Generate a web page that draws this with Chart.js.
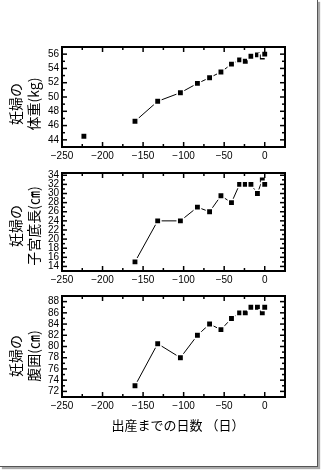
<!DOCTYPE html>
<html><head><meta charset="utf-8">
<script src="https://cdn.jsdelivr.net/npm/chart.js@4.4.0/dist/chart.umd.min.js"></script>
<style>
html,body{margin:0;padding:0;background:#fff;}
#wrap{position:relative;width:321px;height:471px;overflow:hidden;background:#fff;}
canvas{position:absolute;left:0;top:0;}
.frame{position:absolute;left:0;top:0;width:317px;height:466px;border-right:1px solid #555;border-bottom:1px solid #555;box-shadow:2px 2px 1px #aaa;pointer-events:none;}
.yt{position:absolute;font-family:"Noto Sans CJK JP";font-size:14px;line-height:18px;white-space:nowrap;text-align:center;color:#000;transform:translate(-50%,-50%) rotate(-90deg);}
.xt{position:absolute;font-family:"Noto Sans CJK JP";font-size:13px;line-height:16px;white-space:nowrap;color:#000;transform:translate(-50%,-50%);}
</style></head>
<body>
<div id="wrap">
<canvas id="c1" width="321" height="471"></canvas>
<canvas id="c2" width="321" height="471"></canvas>
<canvas id="c3" width="321" height="471"></canvas>
<div class="frame"></div>
<div class="yt" style="left:24px;top:104px;">妊婦の<br>体重(kg)</div>
<div class="yt" style="left:24px;top:226px;">妊婦の<br>子宮底長(㎝)</div>
<div class="yt" style="left:24px;top:356px;">妊婦の<br>腹囲(㎝)</div>
<div class="xt" style="left:178px;top:425px;">出産までの日数 （日）</div>
</div>
<script>
// days before delivery
const weightDays = [-223, -160, -132, -104, -83, -68, -54, -41, -31, -24, -17, -9, -3, 0];
const weightKg   = [44.5, 46.6, 49.4, 50.6, 51.9, 52.7, 53.5, 54.6, 55.2, 55.0, 55.7, 55.9, 55.6, 56.0];
const days       = [-160, -132, -104, -83, -68, -54, -41, -31, -24, -17, -9, -3, 0];
const fundusCm   = [15, 24, 24, 27, 26, 29.5, 28, 32, 32, 32, 30, 33, 32];
const waistCm    = [73, 80.5, 78, 82, 84, 83, 85, 86, 86, 87, 87, 86, 87];
const xTicksMin = -250, xTicksMax = 25, xStep = 25, xLabelStep = 50;

const W = 321, H = 471, XH = 20, YW = 62, RIGHT = 285;

const frameTicks = {
  id: 'frameTicks',
  afterDraw(chart) {
    const {ctx, chartArea: a, scales: {x, y}} = chart;
    ctx.save();
    ctx.strokeStyle = '#000';
    ctx.lineWidth = 1.5;
    const seg = (x1, y1, x2, y2) => { ctx.beginPath(); ctx.moveTo(x1, y1); ctx.lineTo(x2, y2); ctx.stroke(); };
    x.ticks.forEach(t => {
      const px = x.getPixelForValue(t.value);
      if (px <= a.left + 1 || px >= a.right - 1) return;
      const len = (t.value % xLabelStep === 0) ? 5 : 3;
      seg(px, a.bottom, px, a.bottom - len);
      seg(px, a.top, px, a.top + len);
    });
    y.ticks.forEach(t => {
      const py = y.getPixelForValue(t.value);
      if (py <= a.top + 1 || py >= a.bottom - 1) return;
      const len = (t.value % 2 === 0) ? 5 : 3;
      seg(a.left, py, a.left + len, py);
      seg(a.right, py, a.right - len, py);
    });
    ctx.lineWidth = 2;
    ctx.strokeRect(a.left, a.top, a.right - a.left, a.bottom - a.top);
    ctx.restore();
  }
};

const tickFont = {family: 'Liberation Sans', size: 10};

function makeChart(id, xs, ys, yMin, yMax, top, bottom, skipFirst) {
  new Chart(document.getElementById(id), {
    type: 'line',
    data: {
      datasets: [{
        data: xs.map((v, i) => ({x: v, y: ys[i]})),
        borderColor: '#000',
        borderWidth: 1,
        pointStyle: 'rect',
        pointRadius: 4.5,
        pointBackgroundColor: '#000',
        pointBorderColor: '#fff',
        pointBorderWidth: 1.5,
        tension: 0,
        segment: skipFirst ? {borderColor: c => c.p0DataIndex === 0 ? 'rgba(0,0,0,0)' : '#000'} : undefined
      }]
    },
    options: {
      responsive: false,
      animation: false,
      events: [],
      layout: {padding: {left: 0, top: top, right: W - RIGHT, bottom: H - bottom - XH}},
      plugins: {legend: {display: false}, tooltip: {enabled: false}},
      scales: {
        x: {
          type: 'linear', min: xTicksMin, max: xTicksMax,
          afterFit(s) { s.height = XH; },
          grid: {display: false, drawTicks: false},
          border: {display: false},
          ticks: {
            stepSize: xStep, autoSkip: false, maxRotation: 0, padding: 3, color: '#000', font: tickFont,
            callback: v => (v % xLabelStep === 0 && v <= 0) ? (v < 0 ? '\u2212' + Math.abs(v) : String(v)) : ''
          }
        },
        y: {
          type: 'linear', min: yMin, max: yMax,
          afterBuildTicks(s) {
            const t = [];
            for (let v = Math.ceil(yMin); v <= Math.floor(yMax); v++) t.push({value: v});
            s.ticks = t;
          },
          afterFit(s) { s.width = YW; },
          grid: {display: false, drawTicks: false},
          border: {display: false},
          ticks: {
            autoSkip: false, padding: 3, color: '#000', font: tickFont,
            callback: v => (Number.isInteger(v) && v % 2 === 0) ? String(v) : ''
          }
        }
      }
    },
    plugins: [frameTicks]
  });
}

makeChart('c1', weightDays, weightKg, 43, 57, 47, 147, true);
makeChart('c2', days, fundusCm, 13, 34.5, 173, 271, false);
makeChart('c3', days, waistCm, 71, 89, 296, 397, false);
</script>
</body></html>
